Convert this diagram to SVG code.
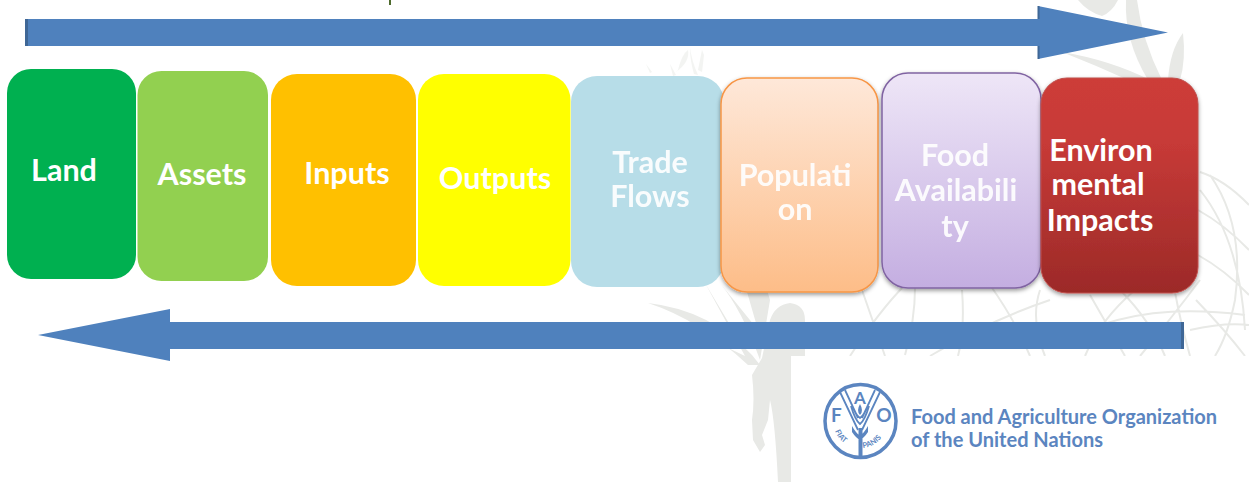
<svg xmlns="http://www.w3.org/2000/svg" width="1249" height="482" viewBox="0 0 1249 482">
<style>
text{font-family:"Lato","Noto Sans","Liberation Sans",sans-serif;font-weight:700;text-anchor:middle}
.lbl{font-size:30.500px;fill:#fff}
.soft{fill:#fff;opacity:.92}
.shaft{fill:#4f81bd}
.edge{fill:#3f6796}
.bg{fill:#e8e9e6}
.globe{fill:none;stroke:#e8e9e6;stroke-width:2}
.fao{fill:#5b85c0}
.wh{fill:none;stroke:#5b85c0;stroke-width:1.800}
.org{font-size:20.500px;text-anchor:start;fill:#5b85c0}
</style>
<defs>
<linearGradient id="gP" x1="0" y1="0" x2="0" y2="1"><stop offset="0" stop-color="#fee8d9"/><stop offset="1" stop-color="#fdbd88"/></linearGradient>
<linearGradient id="gF" x1="0" y1="0" x2="0" y2="1"><stop offset="0" stop-color="#eee6f7"/><stop offset="1" stop-color="#c4aee1"/></linearGradient>
<linearGradient id="gE" x1="0" y1="0" x2="0" y2="1"><stop offset="0" stop-color="#cd3c38"/><stop offset=".3" stop-color="#c73a37"/><stop offset="1" stop-color="#9c2a28"/></linearGradient>
<filter id="sh" x="-10%" y="-10%" width="120%" height="120%"><feDropShadow dx="0" dy="2" stdDeviation="2" flood-color="#000" flood-opacity=".4"/></filter>
<path id="fiat" d="M835 431A27 27 0 0 0 857 448"/>
<path id="panis" d="M863 448A27 27 0 0 0 886 429"/>
</defs>

<g id="background">
<path class="globe" d="M850 356Q880 310 905 285M885 356L862 290M905 355Q915 320 915 288M930 356Q990 320 1050 300M958 356Q965 330 962 290M1030 356Q1015 320 990 285M1045 356Q1030 320 1040 290M1060 345Q1130 300 1245 315M1085 356Q1100 320 1135 290M1125 356L1090 295M1165 356Q1150 320 1120 290M1190 356Q1180 320 1175 292M1200 190Q1240 240 1245 330M1198 210Q1225 225 1249 250M1198 255Q1225 270 1249 295M1200 280Q1170 320 1140 356M1196 300Q1225 330 1245 356M1210 175Q1245 225 1235 300Q1228 335 1215 356M1200 172Q1225 180 1249 205M1190 330Q1225 322 1249 325"/>
<path class="bg" d="M1078 0H1118Q1112 12 1102 16Q1088 12 1078 0ZM1126 0H1137Q1142 40 1162 80H1148Q1124 40 1126 0ZM1062 52Q1110 60 1150 80H1128Q1095 65 1062 52ZM1183 33Q1186 60 1180 80H1168Q1170 50 1183 33Z"/>
<path class="bg" d="M678 70Q682 54 688 50Q690 62 676 72ZM646 64L652 72L650 73ZM670 64L676 75L673 76ZM690 48Q692 62 698 75L694 74Q690 60 690 48ZM702 50L698 70L702 72L704 55Z" opacity=".5"/>
<path class="bg" d="M648 303Q710 310 752 355L760 365L748 365Q700 320 648 303ZM705 283L730 325L722 345L745 356Q725 320 705 283ZM720 283Q742 310 760 360L770 300L765 283L745 285L758 330ZM770 320Q775 305 790 303Q805 305 805 320L805 482H778Q775 420 770 400L768 420L762 435L765 445L760 452L753 440L752 420Q755 400 752 375L762 358Z"/>
</g>

<rect x="791" y="356" width="458" height="126" fill="#fff"/>
<path d="M390 0V5" stroke="#4e6b2e" stroke-width="2" fill="none"/>

<g id="connectors">
<g id="arrow-forward">
<path class="shaft" d="M25 19H1038V6L1168 32.500L1038 59V46H25Z"/>
<path class="edge" d="M25 19H28V46H25ZM1037.500 6H1039.500V19H1037.500ZM1037.500 46H1039.500V59H1037.500Z"/>
</g>
<g id="arrow-back">
<path class="shaft" d="M1184 322H170V309L38 335L170 361V349H1184Z"/>
<path class="edge" d="M1181 322H1184V349H1181Z"/>
</g>
</g>

<g id="node-land"><rect x="7" y="69" width="129" height="210" rx="24" fill="#00b050"/><text class="lbl" x="64" y="181">Land</text></g>
<g id="node-assets"><rect x="137.500" y="71" width="130.500" height="210" rx="24" fill="#92d050"/><text class="lbl" x="202" y="185">Assets</text></g>
<g id="node-inputs"><rect x="271" y="74" width="145" height="212" rx="26" fill="#ffc000"/><text class="lbl" x="347" y="184">Inputs</text></g>
<g id="node-outputs"><rect x="418" y="74" width="152.500" height="212" rx="26" fill="#ffff00"/><text class="lbl" x="495" y="189">Outputs</text></g>
<g id="node-trade-flows"><rect x="571" y="76" width="153" height="211" rx="26" fill="#b7dde8"/><text class="lbl soft" x="650" y="173">Trade</text><text class="lbl soft" x="650" y="207">Flows</text></g>
<g id="node-population"><rect x="721" y="78" width="157" height="214" rx="26" fill="url(#gP)" stroke="#f79646" stroke-width="1.500" filter="url(#sh)"/><text class="lbl soft" x="795" y="186">Populati</text><text class="lbl soft" x="795" y="220">on</text></g>
<g id="node-food-availability"><rect x="882" y="73" width="159" height="215" rx="26" fill="url(#gF)" stroke="#8064a2" stroke-width="1.500" filter="url(#sh)"/><text class="lbl soft" x="955" y="166">Food</text><text class="lbl soft" x="956" y="201">Availabili</text><text class="lbl soft" x="955" y="237">ty</text></g>
<g id="node-environmental-impacts"><rect x="1041" y="78" width="157" height="215" rx="26" fill="url(#gE)" stroke="#c0504d" stroke-width="1" filter="url(#sh)"/><text class="lbl" x="1101" y="161">Environ</text><text class="lbl" x="1098" y="195">mental</text><text class="lbl" x="1100" y="231">Impacts</text></g>

<g id="fao-logo">
<ellipse cx="860.500" cy="421" rx="35.500" ry="36.500" fill="#fff" stroke="#5b85c0" stroke-width="3.500"/>
<path class="wh" d="M840 392L858 430M880 392L862 430M845 390L858 418M875 390L862 418M851 406Q855 420 860 424Q865 420 869 406M855 412Q857 416 860 418Q863 416 865 412"/>
<path class="fao" d="M858.500 428H862.500V456H858.500ZM860 404Q864 411 860 415Q856 411 860 404ZM852 426Q856 433 860 436Q864 433 868 426V432Q864 438 860 440Q856 438 852 432Z"/>
<text x="860" y="404" font-size="17" class="fao">A</text>
<text x="836.500" y="422" font-size="19" class="fao">F</text>
<text x="884" y="422" font-size="19" class="fao">O</text>
<text font-size="7.500" font-weight="400" class="fao" style="text-anchor:start"><textPath href="#fiat">FIAT</textPath></text>
<text font-size="7.500" font-weight="400" class="fao" style="text-anchor:start"><textPath href="#panis">PANIS</textPath></text>
<text class="org" x="911" y="424" textLength="306" lengthAdjust="spacingAndGlyphs">Food and Agriculture Organization</text>
<text class="org" x="911" y="447" textLength="192" lengthAdjust="spacingAndGlyphs">of the United Nations</text>
</g>
</svg>
